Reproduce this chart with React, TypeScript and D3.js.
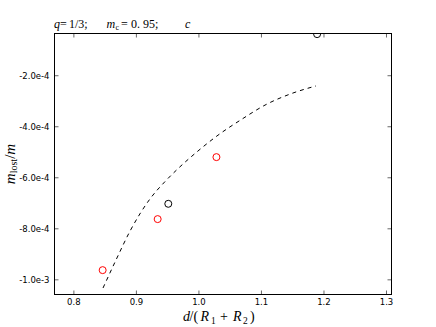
import React from "react";
import * as d3 from "d3";

const xTicks = [0.8, 0.9, 1.0, 1.1, 1.2, 1.3];
const yTicks = [-2.0e-4, -4.0e-4, -6.0e-4, -8.0e-4, -1.0e-3];
const yTickLabels = ["-2.0e-4", "-4.0e-4", "-6.0e-4", "-8.0e-4", "-1.0e-3"];

const redX = [0.846, 0.934, 1.028];
const redY = [-9.62e-4, -7.62e-4, -5.19e-4];
const blackX = [0.951, 1.189];
const blackY = [-7.02e-4, -0.37e-4];

const curveX = [0.8466, 0.8674, 0.8898, 0.9217, 0.9457, 0.9649, 0.9985, 1.0289, 1.0689, 1.1089, 1.1457, 1.1872];
const curveY = [-1.032e-3, -9.22e-4, -8.09e-4, -6.83e-4, -6.15e-4, -5.68e-4, -4.95e-4, -4.36e-4, -3.7e-4, -3.11e-4, -2.72e-4, -2.4e-4];

const W = 436, H = 327;
const L = 54.5, R = 391.5, T = 33.5, B = 294.5;

export default function App() {
  const x = d3.scaleLinear().domain([0.769, 1.308]).range([L, R]);
  const y = d3.scaleLinear().domain([-1.0575e-3, -0.345e-4]).range([B, T]);
  const line = d3.line<number>().x((_, i) => x(curveX[i])).y((_, i) => y(curveY[i])).curve(d3.curveMonotoneX);
  const tl = 4;
  const serif = "'Liberation Serif', 'DejaVu Serif', serif";
  const sans = "'DejaVu Sans', sans-serif";
  return (
    <svg width={W} height={H} style={{ position: "absolute", left: 0, top: 0 }}>
      <rect x={0} y={0} width={W} height={H} fill="#fff" />
      <defs>
        <clipPath id="clip">
          <rect x={L} y={T} width={R - L} height={B - T} />
        </clipPath>
      </defs>
      <g clipPath="url(#clip)">
        <path d={line(curveX) || ""} fill="none" stroke="#000" strokeWidth={1} strokeDasharray="4,4" />
        {redX.map((v, i) => (
          <circle key={"r" + i} cx={x(v)} cy={y(redY[i])} r={3.5} fill="none" stroke="#ff0000" strokeWidth={1} />
        ))}
        {blackX.map((v, i) => (
          <circle key={"b" + i} cx={x(v)} cy={y(blackY[i])} r={3.5} fill="none" stroke="#000" strokeWidth={1} />
        ))}
      </g>
      <rect x={L} y={T} width={R - L} height={B - T} fill="none" stroke="#000" strokeWidth={1} />
      {xTicks.map((t) => (
        <g key={"x" + t}>
          <line x1={x(t)} x2={x(t)} y1={B} y2={B - tl} stroke="#000" strokeWidth={0.6} />
          <line x1={x(t)} x2={x(t)} y1={T} y2={T + tl} stroke="#000" strokeWidth={0.6} />
          <text x={x(t)} y={B + 10.5} fontSize={8.5} fontFamily={sans} textAnchor="middle">{t.toFixed(1)}</text>
        </g>
      ))}
      {yTicks.map((t, i) => (
        <g key={"y" + t}>
          <line x1={L} x2={L + tl} y1={y(t)} y2={y(t)} stroke="#000" strokeWidth={0.6} />
          <line x1={R} x2={R - tl} y1={y(t)} y2={y(t)} stroke="#000" strokeWidth={0.6} />
          <text x={L - 5} y={y(t) + 3} fontSize={8.5} fontFamily={sans} textAnchor="end">{yTickLabels[i]}</text>
        </g>
      ))}
      <text y={28} fontSize={12} fontFamily={serif}>
        <tspan x={54} fontStyle="italic">q</tspan>
        <tspan x={60}>=</tspan>
        <tspan x={69}>1/3;</tspan>
        <tspan x={106.5} fontStyle="italic">m</tspan>
        <tspan x={115.5} fontSize={8} dy={2}>c</tspan>
        <tspan x={121} dy={-2}>=</tspan>
        <tspan x={131}>0. 95;</tspan>
        <tspan x={185} fontStyle="italic">c</tspan>
      </text>
      <text y={321} fontSize={14} fontFamily={serif}>
        <tspan x={183} fontStyle="italic">d</tspan>
        <tspan x={189.5}>/(</tspan>
        <tspan x={200.5} fontStyle="italic">R</tspan>
        <tspan x={211} fontSize={9.5} dy={2.5}>1</tspan>
        <tspan x={220} dy={-2.5}>+</tspan>
        <tspan x={233} fontStyle="italic">R</tspan>
        <tspan x={243} fontSize={9.5} dy={2.5}>2</tspan>
        <tspan x={250} dy={-2.5}>)</tspan>
      </text>
      <text transform={`translate(14.5, ${(T + B) / 2}) rotate(-90)`} fontSize={15} fontFamily={serif} textAnchor="middle">
        <tspan fontStyle="italic">m</tspan>
        <tspan fontSize={10} dy={2.5}>lost</tspan>
        <tspan dy={-2.5}>/</tspan>
        <tspan fontStyle="italic">m</tspan>
      </text>
    </svg>
  );
}
